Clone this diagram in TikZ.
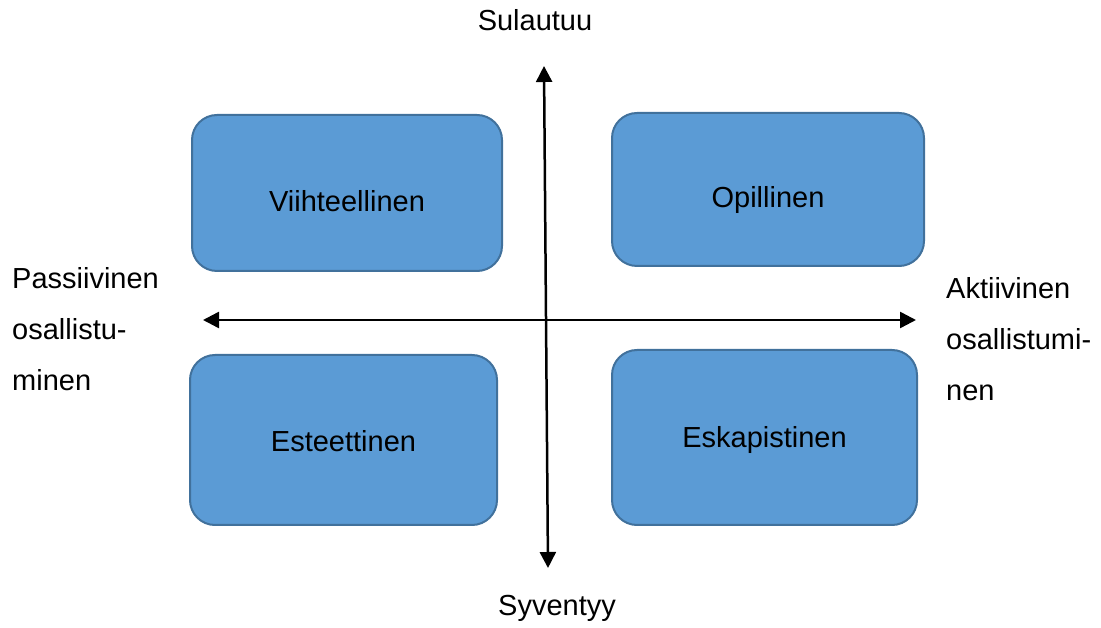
\documentclass[tikz,border=0pt]{standalone}
\usepackage{fontspec}
\setmainfont{Liberation Sans}
\usetikzlibrary{arrows.meta}
\definecolor{boxfill}{HTML}{5B9BD5}
\definecolor{boxdraw}{HTML}{41719C}
\tikzset{
  quad/.style={draw=boxdraw, fill=boxfill, line width=2pt, rounded corners=25pt, inner sep=0pt},
  qtext/.style={inner sep=0pt, font=\fontsize{29}{34}\selectfont},
  axis/.style={line width=2.5pt, {Triangle[length=16pt,width=16pt]}-{Triangle[length=16pt,width=16pt]}},
  lbl/.style={inner sep=0pt, font=\fontsize{29}{51}\selectfont, align=left}
}
\begin{document}
\begin{tikzpicture}[x=1pt,y=1pt]
\useasboundingbox (0,0) rectangle (1101,627);
\node[quad, minimum width=310pt, minimum height=156pt] (viih) at (347,434) {};
\node[quad, minimum width=312pt, minimum height=153pt] (opil) at (768,437.5) {};
\node[quad, minimum width=307pt, minimum height=170pt] (este) at (343.5,187) {};
\node[quad, minimum width=305pt, minimum height=175pt] (eska) at (764.5,189.5) {};
\node[qtext] (viihT) at ([yshift=-8pt]viih.center) {Viihteellinen};
\node[qtext] (opilT) at ([yshift=-11pt]opil.center) {Opillinen};
\node[qtext] (esteT) at ([yshift=-1pt]este.center) {Esteettinen};
\node[qtext] (eskaT) at ([yshift=-3pt]eska.center) {Eskapistinen};
\coordinate (top) at (544,561);
\coordinate (bot) at (548,59);
\coordinate (left) at (203,307);
\coordinate (right) at (916,307);
\draw[axis] (left) -- (right);
\draw[axis] (bot) -- (top);
\node[lbl] (sul) at (535,607) {Sulautuu};
\node[lbl] (syv) at (557,19) {Syventyy};
\node[lbl, anchor=west] (pas) at (12,298) {Passiivinen\\osallistu-\\minen};
\node[lbl, anchor=west] (akt) at (946,288) {Aktiivinen\\osallistumi-\\nen};
\end{tikzpicture}
\end{document}
